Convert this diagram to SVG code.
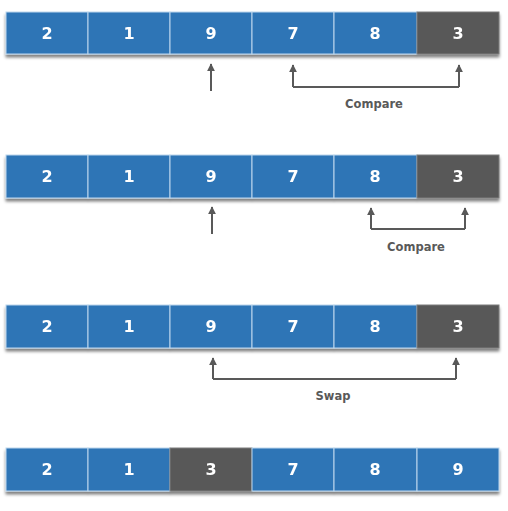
<svg xmlns="http://www.w3.org/2000/svg" width="508" height="511" viewBox="0 0 508 511">
<style>
.b{fill:#2E75B6;stroke:#BDD7EE;stroke-width:1}
.g{fill:#595959;stroke:#7F7F7F;stroke-width:1}
.t{font-family:"DejaVu Sans",Verdana,sans-serif;font-weight:bold;font-size:16px;fill:#fff;text-anchor:middle}
.l{font-family:"DejaVu Sans",Verdana,sans-serif;font-size:11.5px;font-weight:bold;fill:#595959;text-anchor:middle}
.c{fill:none;stroke:#595959;stroke-width:2}
</style>
<defs>
<filter id="sh" x="-5%" y="-20%" width="110%" height="160%">
<feGaussianBlur in="SourceAlpha" stdDeviation="1.5"/>
<feOffset dx="0" dy="3"/>
<feComponentTransfer><feFuncA type="linear" slope="0.5"/></feComponentTransfer>
<feMerge><feMergeNode/><feMergeNode in="SourceGraphic"/></feMerge>
</filter>
<marker id="ah" viewBox="0 0 10 10" refX="9" refY="5" markerWidth="4" markerHeight="4" orient="auto">
<path d="M0,0 L10,5 L0,10 z" fill="#595959"/>
</marker>
</defs>

<g id="row1" filter="url(#sh)">
<rect class="b" x="6" y="12" width="82" height="42"/>
<rect class="b" x="88" y="12" width="82" height="42"/>
<rect class="b" x="170" y="12" width="82" height="42"/>
<rect class="b" x="252" y="12" width="82" height="42"/>
<rect class="b" x="334" y="12" width="83" height="42"/>
<rect class="g" x="417" y="12" width="82" height="42"/>
<text class="t" x="47" y="39">2</text>
<text class="t" x="129" y="39">1</text>
<text class="t" x="211" y="39">9</text>
<text class="t" x="293" y="39">7</text>
<text class="t" x="375" y="39">8</text>
<text class="t" x="458" y="39">3</text>
</g>

<g id="row2" filter="url(#sh)">
<rect class="b" x="6" y="155" width="82" height="43"/>
<rect class="b" x="88" y="155" width="82" height="43"/>
<rect class="b" x="170" y="155" width="82" height="43"/>
<rect class="b" x="252" y="155" width="82" height="43"/>
<rect class="b" x="334" y="155" width="83" height="43"/>
<rect class="g" x="417" y="155" width="82" height="43"/>
<text class="t" x="47" y="182">2</text>
<text class="t" x="129" y="182">1</text>
<text class="t" x="211" y="182">9</text>
<text class="t" x="293" y="182">7</text>
<text class="t" x="375" y="182">8</text>
<text class="t" x="458" y="182">3</text>
</g>

<g id="row3" filter="url(#sh)">
<rect class="b" x="6" y="305" width="82" height="43"/>
<rect class="b" x="88" y="305" width="82" height="43"/>
<rect class="b" x="170" y="305" width="82" height="43"/>
<rect class="b" x="252" y="305" width="82" height="43"/>
<rect class="b" x="334" y="305" width="83" height="43"/>
<rect class="g" x="417" y="305" width="82" height="43"/>
<text class="t" x="47" y="332">2</text>
<text class="t" x="129" y="332">1</text>
<text class="t" x="211" y="332">9</text>
<text class="t" x="293" y="332">7</text>
<text class="t" x="375" y="332">8</text>
<text class="t" x="458" y="332">3</text>
</g>

<g id="row4" filter="url(#sh)">
<rect class="b" x="6" y="448" width="82" height="43"/>
<rect class="b" x="88" y="448" width="82" height="43"/>
<rect class="g" x="170" y="448" width="82" height="43"/>
<rect class="b" x="252" y="448" width="82" height="43"/>
<rect class="b" x="334" y="448" width="83" height="43"/>
<rect class="b" x="417" y="448" width="82" height="43"/>
<text class="t" x="47" y="475">2</text>
<text class="t" x="129" y="475">1</text>
<text class="t" x="211" y="475">3</text>
<text class="t" x="293" y="475">7</text>
<text class="t" x="375" y="475">8</text>
<text class="t" x="458" y="475">9</text>
</g>

<g id="connectors">
<path class="c" d="M211,91 V64" marker-end="url(#ah)"/>
<path class="c" d="M293,87 V65" marker-end="url(#ah)"/>
<path class="c" d="M459,87 V65" marker-end="url(#ah)"/>
<path class="c" d="M293,87 H459"/>
<path class="c" d="M212,234 V207" marker-end="url(#ah)"/>
<path class="c" d="M371,229 V208" marker-end="url(#ah)"/>
<path class="c" d="M465,229 V208" marker-end="url(#ah)"/>
<path class="c" d="M371,229 H465"/>
<path class="c" d="M213,379 V358" marker-end="url(#ah)"/>
<path class="c" d="M456,379 V358" marker-end="url(#ah)"/>
<path class="c" d="M213,379 H456"/>
</g>

<g id="labels">
<text class="l" x="374" y="108">Compare</text>
<text class="l" x="416" y="251">Compare</text>
<text class="l" x="333" y="400">Swap</text>
</g>
</svg>
